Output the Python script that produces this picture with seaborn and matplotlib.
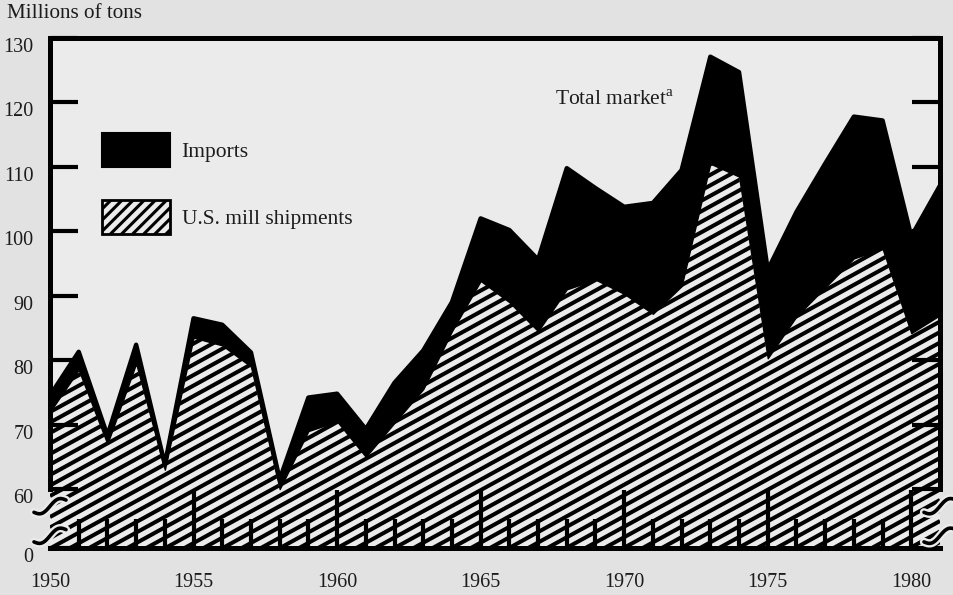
import numpy as np
import pandas as pd
import matplotlib
matplotlib.use("Agg")
import matplotlib.pyplot as plt
import seaborn as sns
from matplotlib.collections import LineCollection
from matplotlib.patches import Patch
from matplotlib.transforms import ScaledTranslation
import matplotlib.patheffects as pe

# ---------------- data (millions of tons) ----------------
years = list(range(1950, 1982))
total_market = [74.5, 81.3, 68.3, 82.4, 63.8, 86.5, 85.5, 81.2, 61.5, 74.2,
                74.8, 69.3, 76.5, 81.5, 89.0, 102.0, 100.2, 95.6, 109.8, 106.7,
                103.8, 104.4, 109.5, 127.1, 124.7, 94.0, 103.0, 110.5, 117.8, 117.2,
                99.2, 107.1]
mill_shipments = [72.0, 78.5, 67.0, 79.5, 63.0, 83.5, 82.3, 79.0, 60.0, 69.0,
                  70.5, 65.0, 70.3, 75.5, 84.5, 92.3, 89.0, 84.5, 91.0, 92.5,
                  90.3, 87.2, 91.5, 110.5, 108.5, 80.3, 86.8, 91.3, 95.8, 97.3,
                  84.2, 87.0]
ytick_values = [60, 70, 80, 90, 100, 110, 120, 130]
ytick_labels = ["0", "60", "70", "80", "90", "100", "110", "120", "130"]
xtick_years = [1950, 1955, 1960, 1965, 1970, 1975, 1980]
series_labels = ["Imports", "U.S. mill shipments"]

df = pd.DataFrame({"year": years, "total": total_market, "ships": mill_shipments})

# ---------------- style ----------------
sns.set_style("ticks")
plt.rcParams["font.family"] = ["Liberation Serif", "DejaVu Serif"]
plt.rcParams["mathtext.fontset"] = "custom"
plt.rcParams["mathtext.rm"] = "Liberation Serif"
plt.rcParams["hatch.linewidth"] = 2.2
plt.rcParams["hatch.color"] = "black"

BG_FIG = "#e2e2e2"
BG_AX = "#ebebeb"
TXT = "#1c1c1c"
FS = 14.5

W, H = 954, 595
fig = plt.figure(figsize=(W / 100, H / 100), dpi=100, facecolor=BG_FIG)
ax_l, ax_b, ax_w, ax_h = 50, 47, 890, 510   # pixels
ax = fig.add_axes([ax_l / W, ax_b / H, ax_w / W, ax_h / H], facecolor=BG_AX)

y_bottom = 50.85   # visual position of the broken-axis "0"
ax.set_xlim(1950, 1981)
ax.set_ylim(y_bottom, 130)

# shipments area (hatched)
ship_poly = ax.fill_between(df["year"], y_bottom, df["ships"], facecolor=BG_AX,
                            edgecolor="none", linewidth=0, zorder=1)
# custom diagonal hatch lines, clipped to the shipments polygon
slope_px = 0.55
spacing_px = 10.5
k = slope_px * ax_w / ax_h
step = spacing_px / ax_h
segs = []
for c in np.arange(-k - 0.05, 1.05, step):
    segs.append([(0, c), (1, c + k)])
lc = LineCollection(segs, colors="black", linewidths=2.9,
                    transform=ax.transAxes, zorder=1.2)
lc.set_clip_path(ship_poly.get_paths()[0], ax.transData)
lc.set_clip_box(ax.bbox)
ax.add_collection(lc)

# imports (black band between shipments and total market)
ax.fill_between(df["year"], df["ships"], df["total"], facecolor="black",
                edgecolor="black", linewidth=1.0, zorder=1.5)
sns.lineplot(data=df, x="year", y="total", color="black", linewidth=3.2,
             ax=ax, zorder=2, legend=False)

# ---------------- axes styling ----------------
for side in ["left", "right", "top", "bottom"]:
    ax.spines[side].set_linewidth(3.6)
    ax.spines[side].set_color("black")
    ax.spines[side].set_visible(True)
ax.spines["left"].set_bounds(60, 130)
ax.spines["right"].set_bounds(60, 130)
ax.set_axisbelow(False)

ax.set_yticks([y_bottom] + ytick_values)
ax.set_yticklabels(ytick_labels)
ax.tick_params(axis="y", which="major", direction="in", length=20, width=3,
               left=True, right=True, labelleft=True, labelright=False,
               pad=12, labelsize=FS, labelcolor=TXT, color="black")
offset = ScaledTranslation(0, -5 / 72, fig.dpi_scale_trans)
for lab in ax.get_yticklabels():
    lab.set_transform(lab.get_transform() + offset)

ax.set_xticks(xtick_years)
ax.set_xticks([y for y in years[1:-1] if y % 5 != 0], minor=True)
ax.tick_params(axis="x", which="major", direction="in", length=42, width=3,
               bottom=True, top=False, pad=18, labelsize=FS, labelcolor=TXT,
               color="black")
ax.tick_params(axis="x", which="minor", direction="in", length=21, width=3,
               bottom=True, top=False, color="black")
ax.xaxis.get_major_ticks()[0].tick1line.set_visible(False)
ax.set_xlabel("")
ax.set_ylabel("")
ax.grid(False)

# axis-break marks
tt = np.linspace(-1, 1, 40)
for xb in (0.0, 1.0):
    for yb in (0.082, 0.024):
        xs = xb + tt * 0.018
        ys = yb + tt * 0.012 + 0.008 * np.sin(tt * np.pi)
        ax.plot(xs, ys, transform=ax.transAxes, color="black", lw=2.6,
                clip_on=False, zorder=6,
                path_effects=[pe.Stroke(linewidth=6, foreground=BG_AX), pe.Normal()])

# legend
LFS = 15.5
handles = [Patch(facecolor="black", edgecolor="black", linewidth=1.5),
           Patch(facecolor=BG_AX, edgecolor="black", linewidth=2.0, hatch="///")]
leg = ax.legend(handles, series_labels, loc="upper left",
                bbox_to_anchor=((102 - ax_l) / ax_w, (H - ax_b - 133) / ax_h),
                frameon=False, borderpad=0, borderaxespad=0,
                handlelength=3.15, handleheight=2.05, handletextpad=0.55,
                labelspacing=1.55, fontsize=LFS)
for t in leg.get_texts():
    t.set_color(TXT)

ax.text(1967.6, 120.4, "Total market$^{\\mathrm{a}}$", fontsize=LFS,
        color=TXT, ha="left", va="center")
fig.text(7 / W, 1 - 14 / H, "Millions of tons", fontsize=15.2, color=TXT,
         ha="left", va="center")

fig.savefig("out.png", dpi=100, facecolor=BG_FIG)
